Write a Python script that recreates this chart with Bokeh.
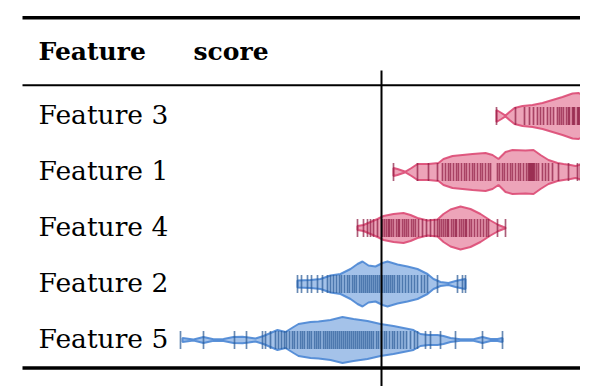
from bokeh.plotting import figure
from bokeh.models import Range1d
from bokeh.core.properties import value
from bokeh.embed import file_html
from bokeh.resources import INLINE

# ---------------- data ----------------
features = ["Feature 3", "Feature 1", "Feature 4", "Feature 2", "Feature 5"]
header_cols = ["Feature", "score"]

# violin outlines: score grid and density (relative half-width)
f3_grid = [1.15, 1.20, 1.24, 1.28, 1.33, 1.41, 1.51, 1.61, 1.71, 1.81, 1.91, 1.97, 2.03, 2.10, 2.17]
f3_dens = [6, 3, 0.4, 4, 8, 10, 11, 13, 16, 19, 22.5, 23, 20, 12, 0]

f1_grid = [0.12, 0.16, 0.24, 0.30, 0.36, 0.47, 0.57, 0.62, 0.71, 0.91, 1.04, 1.11, 1.17, 1.24, 1.31,
           1.44, 1.52, 1.59, 1.67, 1.76, 1.82, 1.89, 1.94, 2.01, 2.10, 2.18]
f1_dens = [4, 3, 0.3, 4, 8, 8, 9, 13, 16, 18, 19, 17, 13, 20, 22,
           21.5, 22, 17, 12, 9, 8, 7, 6, 8, 5, 0]

f4_grid = [-0.24, -0.18, -0.11, -0.04, 0.02, 0.12, 0.22, 0.29, 0.36, 0.46, 0.56, 0.62, 0.69, 0.79,
           0.89, 0.99, 1.09, 1.17, 1.24]
f4_dens = [2, 3, 6, 9, 12, 14, 15, 13, 10, 7.5, 8.5, 14, 18.5, 21.5, 19, 14, 7.5, 3, 0.3]

f2_grid = [-0.84, -0.71, -0.61, -0.51, -0.41, -0.31, -0.24, -0.19, -0.13, -0.06, 0.01, 0.06, 0.16,
           0.26, 0.36, 0.46, 0.52, 0.59, 0.67, 0.74, 0.81, 0.84]
f2_dens = [3.5, 4, 5, 8.5, 10, 15, 20, 22.5, 18.5, 17.5, 21, 22.5, 19.5, 17.5, 15, 10, 5, 2, 1,
           3, 4.5, 5]

f5_grid = [-1.99, -1.88, -1.78, -1.68, -1.58, -1.48, -1.39, -1.33, -1.26, -1.18, -1.11, -1.04, -0.96,
           -0.88, -0.83, -0.71, -0.63, -0.51, -0.39, -0.28, -0.14, -0.01, 0.12, 0.22, 0.32, 0.39,
           0.47, 0.56, 0.62, 0.69, 0.79, 0.92, 1.01, 1.09, 1.16, 1.21]
f5_dens = [2, 0.5, 3, 0.7, 1, 3, 3.3, 2.5, 1.5, 4, 7, 10, 8, 13, 16, 18, 18.5, 20, 23, 21, 19, 16,
           14, 12, 10, 6, 5, 5, 4, 2, 0.7, 0.7, 3, 1, 1, 2]

# individual sample scores (rug)
f3_rug = [1.15, 1.34, 1.43, 1.48, 1.52, 1.56, 1.59, 1.62, 1.66, 1.69, 1.72, 1.76, 1.78, 1.80, 1.82,
          1.85, 1.87, 1.88, 1.91, 1.92, 1.93, 1.96, 1.97, 1.98, 2.01, 2.04]
f1_rug = [0.12, 0.36, 0.47, 0.56, 0.61, 0.64, 0.67, 0.69, 0.72, 0.75, 0.77, 0.80, 0.83, 0.85, 0.88,
          0.91, 0.93, 0.96, 0.99, 1.01, 1.04, 1.07, 1.09, 1.16, 1.18, 1.21, 1.23, 1.26, 1.29, 1.31,
          1.34, 1.37, 1.39, 1.42, 1.45, 1.47, 1.48, 1.49, 1.50, 1.51, 1.52, 1.53, 1.55, 1.57, 1.61,
          1.64, 1.67, 1.71, 1.77, 1.87, 1.96, 1.99]
f4_rug = [-0.24, -0.18, -0.14, -0.11, -0.08, -0.04, 0.01, 0.03, 0.05, 0.07, 0.08, 0.10, 0.12, 0.15,
          0.17, 0.18, 0.21, 0.23, 0.25, 0.27, 0.30, 0.32, 0.34, 0.37, 0.41, 0.45, 0.49, 0.53, 0.56,
          0.58, 0.60, 0.62, 0.64, 0.66, 0.67, 0.70, 0.72, 0.74, 0.75, 0.78, 0.80, 0.82, 0.84, 0.85,
          0.88, 0.90, 0.93, 0.96, 0.99, 1.02, 1.05, 1.07, 1.16, 1.24]
f2_rug = [-0.84, -0.80, -0.74, -0.70, -0.64, -0.59, -0.54, -0.51, -0.48, -0.45, -0.42, -0.40, -0.37,
          -0.34, -0.32, -0.29, -0.27, -0.25, -0.22, -0.20, -0.18, -0.16, -0.14, -0.12, -0.10, -0.08,
          -0.06, -0.04, -0.02, 0.01, 0.03, 0.05, 0.07, 0.09, 0.11, 0.13, 0.16, 0.18, 0.21, 0.24,
          0.27, 0.30, 0.33, 0.36, 0.40, 0.43, 0.46, 0.56, 0.76, 0.81, 0.84]
f5_rug = [-2.01, -1.78, -1.47, -1.35, -1.19, -1.16, -1.11, -1.06, -1.03, -1.00, -0.97, -0.95, -0.92,
          -0.89, -0.87, -0.84, -0.81, -0.79, -0.77, -0.74, -0.72, -0.70, -0.67, -0.65, -0.63, -0.61,
          -0.58, -0.56, -0.54, -0.52, -0.50, -0.48, -0.46, -0.44, -0.42, -0.40, -0.38, -0.36, -0.34,
          -0.32, -0.30, -0.28, -0.26, -0.24, -0.22, -0.20, -0.18, -0.16, -0.14, -0.12, -0.10, -0.08,
          -0.05, -0.03, 0.00, 0.03, 0.05, 0.08, 0.11, 0.13, 0.16, 0.19, 0.22, 0.25, 0.29, 0.33, 0.36,
          0.44, 0.49, 0.59, 0.74, 1.01, 1.21]

grids = [f3_grid, f1_grid, f4_grid, f2_grid, f5_grid]
dens = [f3_dens, f1_dens, f4_dens, f2_dens, f5_dens]
rugs = [f3_rug, f1_rug, f4_rug, f2_rug, f5_rug]

# ---------------- style ----------------
PINK, PINK_DARK = "#dc4a74", "#8a1840"
BLUE, BLUE_DARK = "#4a86d4", "#285894"
base_cols = [PINK, PINK, PINK, BLUE, BLUE]
tick_cols = [PINK_DARK, PINK_DARK, PINK_DARK, BLUE_DARK, BLUE_DARK]
FONT = "DejaVu Serif"

W, H = 580, 386
PX = 1 / 56.0          # y units per pixel (row pitch 56 px)
p = figure(width=W, height=H, output_backend="svg", toolbar_location=None,
           x_range=Range1d(-3.81, 1.99), y_range=Range1d(-2.0625 + H * PX, -2.0625),
           x_axis_location=None, y_axis_location=None, min_border=0,
           background_fill_color="white", border_fill_color="white")
p.grid.visible = False
p.outline_line_color = None

TICK_H = 9 * PX

# table rules
p.segment(x0=[-3.59], x1=[1.99], y0=[-1.754], y1=[-1.754], line_color="black", line_width=3.5)
p.segment(x0=[-3.59], x1=[1.99], y0=[-0.55], y1=[-0.55], line_color="black", line_width=2)
p.segment(x0=[-3.59], x1=[1.99], y0=[4.50], y1=[4.50], line_color="black", line_width=3.5)

# header
p.text(x=[-3.43, -1.88], y=[-1.15, -1.15], text=header_cols, text_font=value(FONT),
       text_font_size="25px", text_font_style="bold", text_baseline="alphabetic", text_color="black")

# row labels
rows = list(range(len(features)))
p.text(x=[-3.43] * len(features), y=[r - 0.025 for r in rows], text=features, text_font=value(FONT),
       text_font_size="26.5px", text_baseline="alphabetic", text_color="black")

# violins
for r, g, d, c in zip(rows, grids, dens, base_cols):
    xs = list(g) + list(reversed(g))
    ys = [r - v * PX for v in d] + [r + v * PX for v in reversed(d)]
    p.patch(xs, ys, fill_color=c, fill_alpha=0.5, line_color=c, line_width=2, line_alpha=0.9)

# rugs
for r, vals, c in zip(rows, rugs, tick_cols):
    p.segment(x0=vals, x1=vals, y0=[r - TICK_H] * len(vals), y1=[r + TICK_H] * len(vals),
              line_color=c, line_alpha=0.7, line_width=1.7)

# zero line
p.segment(x0=[0], x1=[0], y0=[-0.8125], y1=[5.0], line_color="black", line_width=2)

open("out.html", "w").write(file_html(p, INLINE))
